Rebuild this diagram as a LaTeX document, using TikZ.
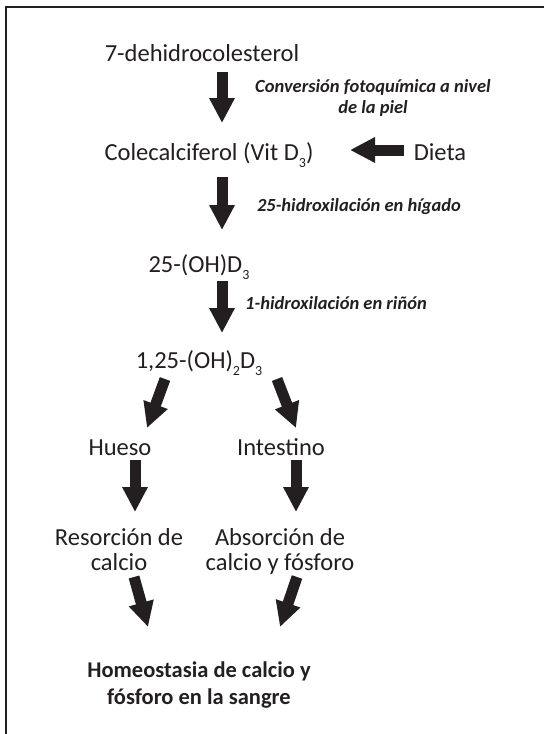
\documentclass[tikz,border=0pt]{standalone}
\usepackage{fontspec}
\setmainfont{Carlito}
\usetikzlibrary{arrows.meta}
\definecolor{ink}{RGB}{35,31,32}
\newcommand{\sbs}[1]{\raisebox{-0.6ex}{\fontsize{14}{14}\selectfont #1}}
\begin{document}
\begin{tikzpicture}[x=1pt,y=-1pt,
  lbl/.style={inner sep=0pt, anchor=base, text=ink, font=\fontsize{24.5}{24.5}\selectfont},
  note/.style={inner sep=0pt, anchor=base, text=ink, font=\fontsize{18.5}{18.5}\selectfont\bfseries\itshape},
  hom/.style={inner sep=0pt, anchor=base, text=ink, font=\fontsize{22.5}{22.5}\selectfont\bfseries},
  big/.style={draw=ink, line width=11pt, -{Triangle[width=24pt,length=25pt]}},
  frame/.style={draw=ink, line width=2pt}]
\useasboundingbox (0,0) rectangle (544,734);
% frame (top and left edges)
\draw[frame] (544,7) -- (6,7) -- (6,734);
% texts
\node[lbl] (dhc) at (202,61) {7-dehidrocolesterol};
\node[note] (conv1) at (373,92) {Conversión fotoquímica a nivel};
\node[note] (conv2) at (373,113) {de la piel};
\node[lbl] (cole) at (209,160) {Colecalciferol (Vit D\sbs{3})};
\node[lbl] (dieta) at (440,160) {Dieta};
\node[note] (hig) at (359,211) {25-hidroxilación en hígado};
\node[lbl] (oh) at (199,272) {25-(OH)D\sbs{3}};
\node[note] (rin) at (336,309) {1-hidroxilación en riñón};
\node[lbl] (doh) at (199,368) {1,25-(OH)\sbs{2}D\sbs{3}};
\node[lbl] (hueso) at (120,455) {Hueso};
\node[lbl] (int) at (281,455) {Intestino};
\node[lbl] (res1) at (119,545) {Resorción de};
\node[lbl] (res2) at (119,570) {calcio};
\node[lbl] (abs1) at (280,545) {Absorción de};
\node[lbl] (abs2) at (280,570) {calcio y fósforo};
\node[hom] (hom1) at (199,677) {Homeostasia de calcio y};
\node[hom] (hom2) at (199,704) {fósforo en la sangre};
% arrow end points
\coordinate (a1t) at (222,72);  \coordinate (a1h) at (222,123);
\coordinate (a2t) at (222,177); \coordinate (a2h) at (222,230);
\coordinate (a3t) at (222,281); \coordinate (a3h) at (222,333);
\coordinate (dt) at (404,150);  \coordinate (dh) at (350,150);
\coordinate (l1t) at (165,379); \coordinate (l1h) at (147,428);
\coordinate (r1t) at (277,379); \coordinate (r1h) at (296,428);
\coordinate (l2t) at (135,460); \coordinate (l2h) at (135,512);
\coordinate (r2t) at (296,460); \coordinate (r2h) at (296,512);
\coordinate (l3t) at (134,577); \coordinate (l3h) at (148,627);
\coordinate (r3t) at (297,577); \coordinate (r3h) at (280,627);
% arrows
\draw[big] (a1t) -- (a1h);
\draw[big] (a2t) -- (a2h);
\draw[big] (a3t) -- (a3h);
\draw[big] (dt) -- (dh);
\draw[big] (l1t) -- (l1h);
\draw[big] (r1t) -- (r1h);
\draw[big] (l2t) -- (l2h);
\draw[big] (r2t) -- (r2h);
\draw[big] (l3t) -- (l3h);
\draw[big] (r3t) -- (r3h);
\end{tikzpicture}
\end{document}
